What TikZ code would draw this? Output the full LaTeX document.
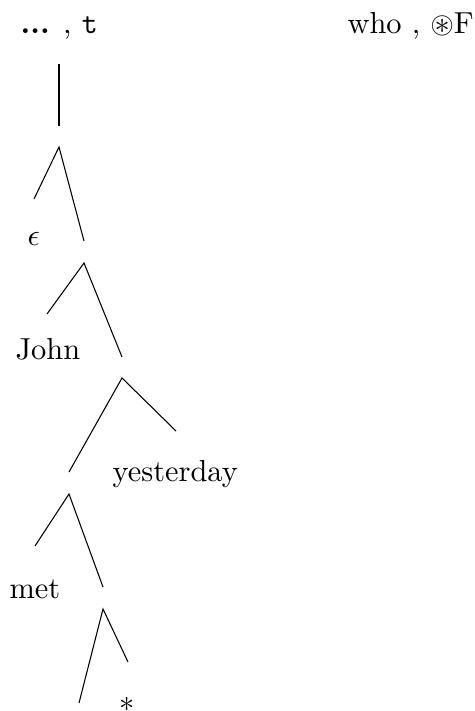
\documentclass[tikz,border=0pt]{standalone}
\usepackage{amsmath}
\usepackage{amssymb}
\usepackage{tikz}

\begin{document}
\begin{tikzpicture}
	[x=0.329pt,y=-0.329pt,
		leaf node/.style={inner sep=0pt,anchor=base west},
		branch/.style={draw,line width=0.35pt}]

	\useasboundingbox (0,0) rectangle (474,711);

	\node[leaf node] (root) at (20,34) {\textbf{...} , \texttt{t}};
	\node[leaf node] (who) at (347,34) {who , $\circledast$F};

	% stem and forks
	\coordinate (s0) at (59,64);
	\coordinate (s1) at (59,126);
	\coordinate (a) at (59,147);
	\coordinate (al) at (34,199);
	\coordinate (ar) at (84,241);
	\coordinate (b) at (84,263);
	\coordinate (bl) at (47,314);
	\coordinate (br) at (122,357);
	\coordinate (c) at (122,378);
	\coordinate (cl) at (69,472);
	\coordinate (cr) at (176,431);
	\coordinate (d) at (69,494);
	\coordinate (dl) at (35,546);
	\coordinate (dr) at (103,587);
	\coordinate (e) at (103,609);
	\coordinate (el) at (79,703);
	\coordinate (er) at (128,662);

	\node[leaf node] (eps) at (27,245) {$\epsilon$};
	\node[leaf node] (john) at (15,359) {John};
	\node[leaf node] (yest) at (112,481) {yesterday};
	\node[leaf node] (met) at (9,598) {met};
	\node[inner sep=0pt,anchor=north] (star) at (127,697) {$*$};

	\path[branch] (s0) -- (s1);
	\path[branch] (al) -- (a) -- (ar);
	\path[branch] (bl) -- (b) -- (br);
	\path[branch] (cl) -- (c) -- (cr);
	\path[branch] (dl) -- (d) -- (dr);
	\path[branch] (el) -- (e) -- (er);
\end{tikzpicture}
\end{document}
